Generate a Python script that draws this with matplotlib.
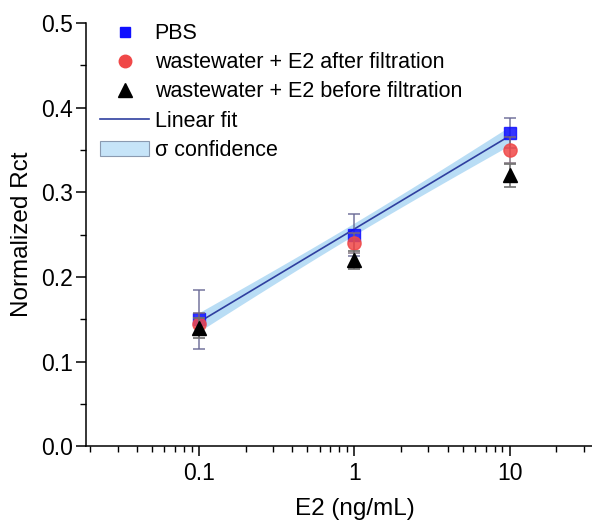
import matplotlib.pyplot as plt
import numpy as np
from matplotlib.patches import Patch
from matplotlib.lines import Line2D
from matplotlib.ticker import LogLocator, FixedLocator, NullFormatter

plt.rcParams['font.family'] = ['Liberation Sans', 'DejaVu Sans']

# concentrations (ng/mL)
conc = [0.1, 1, 10]

# normalized Rct values with error bars
pbs = [0.15, 0.25, 0.37]
pbs_err = [0.035, 0.025, 0.018]
after = [0.145, 0.24, 0.35]
after_err = [0.012, 0.012, 0.015]
before = [0.14, 0.22, 0.32]
before_err = [0.012, 0.011, 0.014]

fig = plt.figure(figsize=(5.92, 5.25), dpi=100)
ax = fig.add_axes([0.145, 0.150, 0.91, 0.806])

# linear fit on log10(x) of the PBS data, with 1-sigma confidence band
lx = np.log10(conc)
b, a = np.polyfit(lx, pbs, 1)
res = np.array(pbs) - (a + b * lx)
s = np.sqrt(np.sum(res ** 2) / (len(lx) - 2))
xf = np.linspace(lx.min(), lx.max(), 100)
yf = a + b * xf
se = s * np.sqrt(1 / len(lx) + (xf - lx.mean()) ** 2 / np.sum((lx - lx.mean()) ** 2))
se = se * 1.5
ax.fill_between(10 ** xf, yf - se, yf + se, color='#b9ddf5', lw=0, zorder=1)
ax.plot(10 ** xf, yf, color='#2f3f9f', lw=1.2, zorder=2)

ax.errorbar(conc, pbs, yerr=pbs_err, fmt='s', color='#1010ff', ms=8, mec='#1010ff',
            ecolor='#6a6a96', elinewidth=1.2, capsize=4, capthick=1.2, alpha=0.85, zorder=3)
ax.errorbar(conc, after, yerr=after_err, fmt='o', color='#f04848', ms=9.5, mec='#f04848',
            ecolor='#7a6a78', elinewidth=1.2, capsize=4, capthick=1.2, alpha=0.85, zorder=4)
ax.errorbar(conc, before, yerr=before_err, fmt='^', color='black', ms=10, mec='black',
            ecolor='#707070', elinewidth=1.2, capsize=4, capthick=1.2, zorder=5)

ax.set_xscale('log')
ax.set_xlim(0.0187, 55)
ax.set_ylim(0, 0.5)
ax.set_xticks(conc)
ax.set_xticklabels(['0.1', '1', '10'])
ax.xaxis.set_minor_locator(LogLocator(base=10, subs=np.arange(2, 10)))
ax.xaxis.set_minor_formatter(NullFormatter())
ax.set_yticks([0.0, 0.1, 0.2, 0.3, 0.4, 0.5])
ax.yaxis.set_minor_locator(FixedLocator([0.05, 0.15, 0.25, 0.35, 0.45]))
ax.tick_params(which='major', direction='out', length=7, width=1.1, labelsize=16.5, pad=2)
ax.tick_params(axis='x', which='major', pad=4)
ax.tick_params(which='minor', direction='out', length=4, width=1.0)
ax.spines['top'].set_visible(False)
ax.spines['right'].set_visible(False)
ax.spines['left'].set_linewidth(1.1)
ax.spines['bottom'].set_linewidth(1.1)

ax.set_xlabel('E2 (ng/mL)', fontsize=17.5, labelpad=10)
ax.set_ylabel('Normalized Rct', fontsize=17.5, labelpad=6)

handles = [
    Line2D([], [], marker='s', color='#1010ff', ls='none', ms=7.5),
    Line2D([], [], marker='o', color='#f04848', ls='none', ms=9),
    Line2D([], [], marker='^', color='black', ls='none', ms=9.5),
    Line2D([], [], color='#2f3f9f', lw=1.2),
    Patch(facecolor='#c6e4f8', edgecolor='#8a9ab0', lw=0.8),
]
labels = ['PBS', 'wastewater + E2 after filtration', 'wastewater + E2 before filtration',
          'Linear fit', '\u03c3 confidence']
leg = ax.legend(handles, labels, loc='upper left', bbox_to_anchor=(0.026, 1.0),
                frameon=False, fontsize=15.5, handlelength=2.3, handletextpad=0.25,
                labelspacing=0.38, borderaxespad=0, borderpad=0)

fig.savefig('out.png', dpi=100)
